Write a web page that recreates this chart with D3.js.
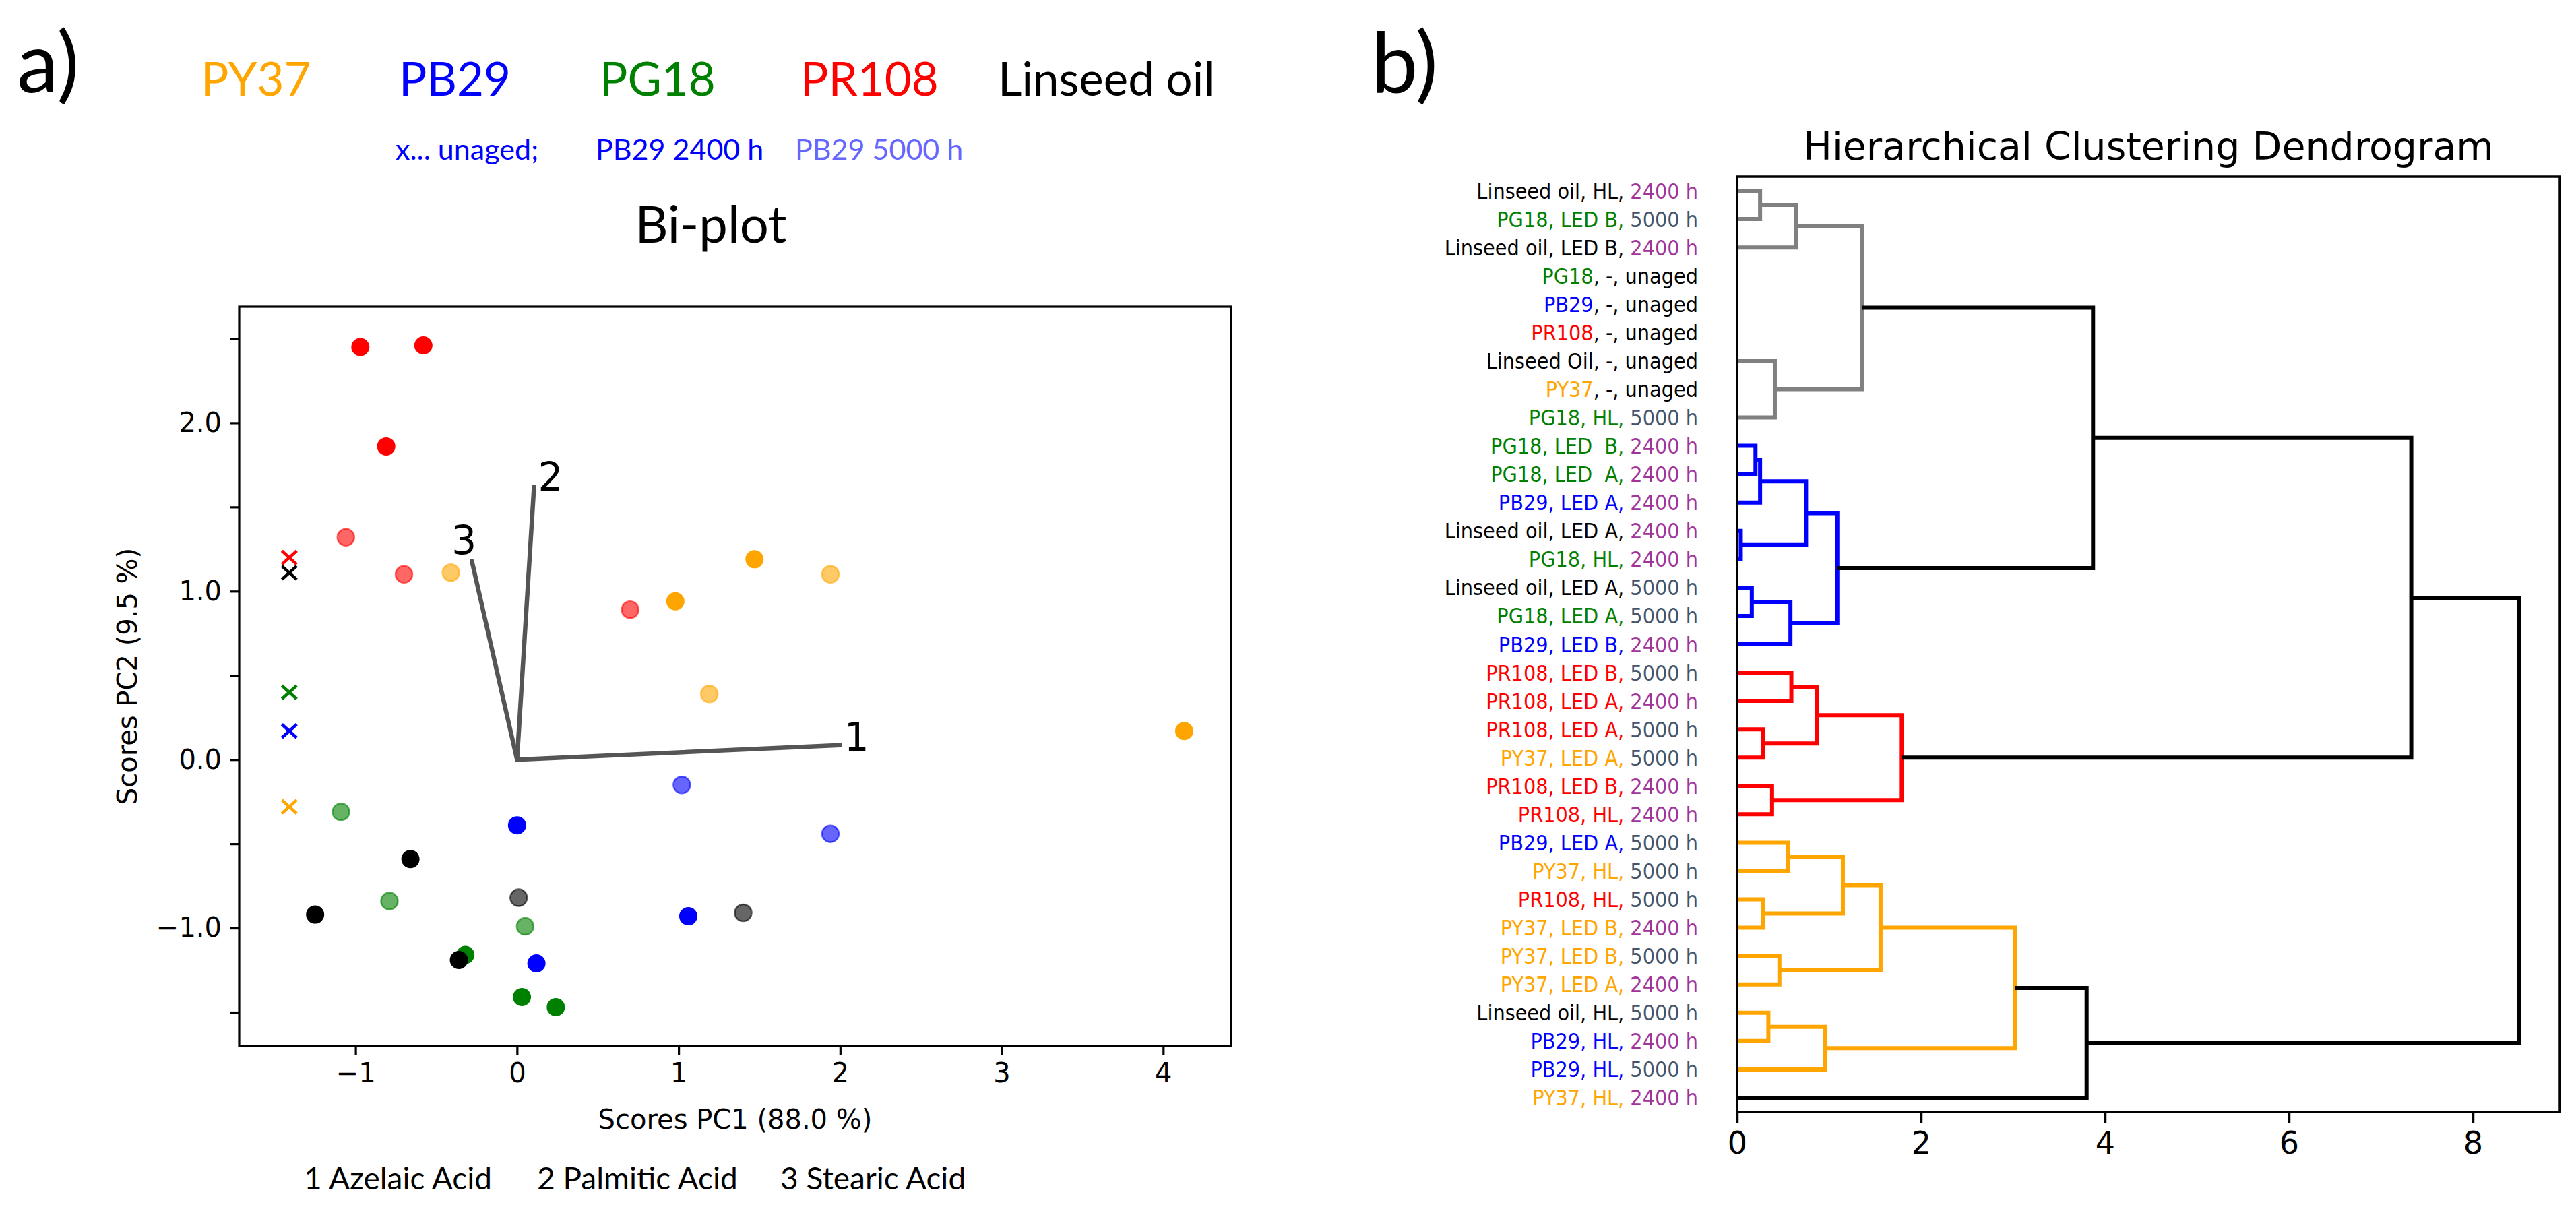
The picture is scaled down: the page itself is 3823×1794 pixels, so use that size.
<!DOCTYPE html>
<html>
<head>
<meta charset="utf-8">
<script src="https://cdn.jsdelivr.net/npm/d3@7"></script>
<style>
body { margin: 0; background: #fff; }
text { white-space: pre; }
</style>
</head>
<body>
<div id="figure"></div>
<script>
// bi-plot scores, one list per pigment (order of pigments below)
var pigments = ["PY37", "PB29", "PG18", "PR108", "Linseed oil"];
var scores2400 = [
    [[1.47, 1.19], [0.98, 0.94], [4.13, 0.17]],
    [[0.00, -0.39], [1.06, -0.93], [0.12, -1.21]],
    [[-0.32, -1.16], [0.03, -1.41], [0.24, -1.47]],
    [[-0.97, 2.45], [-0.58, 2.46], [-0.81, 1.86]],
    [[-0.66, -0.59], [-1.25, -0.92], [-0.36, -1.19]]
];
var scores5000 = [
    [[-0.41, 1.11], [1.94, 1.10], [1.19, 0.39]],
    [[1.02, -0.15], [1.94, -0.44]],
    [[-1.09, -0.31], [-0.79, -0.84], [0.05, -0.99]],
    [[-1.06, 1.32], [-0.70, 1.10], [0.70, 0.89]],
    [[0.01, -0.82], [1.40, -0.91]]
];
var scoresUnaged = [[-1.41, -0.28], [-1.41, 0.17], [-1.41, 0.40], [-1.41, 1.20], [-1.41, 1.11]];

// loadings
var loadingIds = ["1", "2", "3"];
var loadingNames = ["Azelaic Acid", "Palmitic Acid", "Stearic Acid"];
var loadingX = [2.00, 0.105, -0.28];
var loadingY = [0.086, 1.62, 1.18];

var pcaXTicks = [-1, 0, 1, 2, 3, 4];
var pcaYTicks = [-1.5, -1, -0.5, 0, 0.5, 1, 1.5, 2, 2.5];
var pcaYLabelled = [-1, 0, 1, 2];

// dendrogram leaves, top to bottom
var leafPigment = ["Linseed oil", "PG18", "Linseed oil", "PG18", "PB29", "PR108", "Linseed Oil", "PY37",
    "PG18", "PG18", "PG18", "PB29", "Linseed oil", "PG18", "Linseed oil", "PG18", "PB29",
    "PR108", "PR108", "PR108", "PY37", "PR108", "PR108",
    "PB29", "PY37", "PR108", "PY37", "PY37", "PY37", "Linseed oil", "PB29", "PB29", "PY37"];
var leafCondition = ["HL", "LED B", "LED B", "-", "-", "-", "-", "-",
    "HL", "LED  B", "LED  A", "LED A", "LED A", "HL", "LED A", "LED A", "LED B",
    "LED B", "LED A", "LED A", "LED A", "LED B", "HL",
    "LED A", "HL", "HL", "LED B", "LED B", "LED A", "HL", "HL", "HL", "HL"];
var leafTime = ["2400 h", "5000 h", "2400 h", "unaged", "unaged", "unaged", "unaged", "unaged",
    "5000 h", "2400 h", "2400 h", "2400 h", "2400 h", "2400 h", "5000 h", "5000 h", "2400 h",
    "5000 h", "2400 h", "5000 h", "5000 h", "2400 h", "2400 h",
    "5000 h", "5000 h", "5000 h", "2400 h", "5000 h", "2400 h", "5000 h", "2400 h", "5000 h", "2400 h"];

// merges: ids < 33 are leaves, 33 + k is merge k
var mergeChildren = [[0, 1], [33, 2], [6, 8], [34, 35],
    [9, 10], [37, 11], [12, 13], [38, 39], [14, 15], [41, 16], [40, 42],
    [36, 43],
    [17, 18], [19, 20], [45, 46], [21, 22], [47, 48],
    [44, 49],
    [23, 24], [25, 26], [51, 52], [27, 28], [53, 54], [29, 30], [56, 31], [55, 57],
    [58, 32], [50, 59]];
var mergeHeight = [0.25, 0.64, 0.41, 1.36,
    0.20, 0.25, 0.04, 0.75, 0.16, 0.58, 1.09,
    3.87,
    0.59, 0.28, 0.87, 0.38, 1.79,
    7.33,
    0.55, 0.28, 1.15, 0.46, 1.56, 0.34, 0.96, 3.02,
    3.80, 8.50];
var mergeCluster = ["C0", "C0", "C0", "C0",
    "C1", "C1", "C1", "C1", "C1", "C1", "C1",
    "top",
    "C2", "C2", "C2", "C2", "C2",
    "top",
    "C3", "C3", "C3", "C3", "C3", "C3", "C3", "C3",
    "top", "top"];
var distTicks = [0, 2, 4, 6, 8];

var Figure = {
    pigmentColour: {"PY37": "#ffa500", "PB29": "#0000ff", "PG18": "#008000", "PR108": "#ff0000",
        "Linseed oil": "#000000", "Linseed Oil": "#000000"},
    timeColour: {"2400 h": "#a1349a", "5000 h": "#44546a", "unaged": "#000000"},
    clusterColour: {"C0": "#808080", "C1": "#0000ff", "C2": "#ff0000", "C3": "#ffa500", "top": "#000000"},
    calibri: "Lato, 'Open Sans', sans-serif",
    mpl: "'DejaVu Sans', sans-serif",

    init: function(){
        this.svg = d3.select("#figure").append("svg")
            .attr("width", 3823)
            .attr("height", 1794)
            .attr("xmlns", "http://www.w3.org/2000/svg");
        this.buildHeader();
        this.buildBiplot();
        this.buildDendrogram();
    },

    buildHeader: function(){
        var self = this;
        var svg = this.svg;
        svg.append("text").attr("x", 25).attr("y", 137).text("a)")
            .attr("font-family", this.calibri).attr("font-size", 124);
        svg.append("text").attr("x", 2035).attr("y", 137).text("b)")
            .attr("font-family", this.calibri).attr("font-size", 124);

        var legendX = [298, 592, 890, 1188, 1481];
        $each(pigments, function(p, i){
            svg.append("text").attr("x", legendX[i]).attr("y", 142).text(p)
                .attr("font-family", self.calibri).attr("font-size", 69)
                .attr("fill", self.pigmentColour[p]);
        });
        var second = [["x... unaged;", "#0000ff", 587], ["PB29 2400 h", "#0000ff", 884], ["PB29 5000 h", "#6666ff", 1180]];
        $each(second, function(s){
            svg.append("text").attr("x", s[2]).attr("y", 237).text(s[0])
                .attr("font-family", self.calibri).attr("font-size", 43).attr("fill", s[1]);
        });
        svg.append("text").attr("x", 1055).attr("y", 360).text("Bi-plot")
            .attr("text-anchor", "middle")
            .attr("font-family", this.calibri).attr("font-size", 76);

        var footX = [451, 797, 1158];
        $each(loadingNames, function(n, i){
            svg.append("text").attr("x", footX[i]).attr("y", 1765).text(loadingIds[i] + " " + n)
                .attr("font-family", self.calibri).attr("font-size", 46);
        });
    },

    buildBiplot: function(){
        var self = this;
        var svg = this.svg;
        var x = d3.scaleLinear().domain([-1.72, 4.42]).range([355, 1827]);
        var y = d3.scaleLinear().domain([-1.70, 2.69]).range([1552, 455]);
        var minus = function(s){ return String(s).replace("-", "\u2212"); };

        var xAxis = svg.append("g").attr("transform", "translate(0,1552)")
            .call(d3.axisBottom(x).tickValues(pcaXTicks).tickSize(14).tickPadding(12)
                .tickFormat(function(d){ return minus(d); }));
        var yAxis = svg.append("g").attr("transform", "translate(355,0)")
            .call(d3.axisLeft(y).tickValues(pcaYTicks).tickSize(14).tickPadding(12)
                .tickFormat(function(d){
                    return pcaYLabelled.indexOf(d) >= 0 ? minus(d3.format(".1f")(d)) : "";
                }));
        [xAxis, yAxis].forEach(function(a){
            a.select(".domain").remove();
            a.selectAll("line").attr("stroke", "#000").attr("stroke-width", 3.2);
            a.selectAll("text").attr("font-family", self.mpl).attr("font-size", 40).attr("fill", "#000");
        });

        svg.append("text").attr("x", (355 + 1827) / 2).attr("y", 1675)
            .attr("text-anchor", "middle").text("Scores PC1 (88.0 %)")
            .attr("font-family", this.mpl).attr("font-size", 40);
        svg.append("text").attr("transform", "translate(203," + (455 + 1552) / 2 + ") rotate(-90)")
            .attr("text-anchor", "middle").text("Scores PC2 (9.5 %)")
            .attr("font-family", this.mpl).attr("font-size", 40);

        var plot = svg.append("g");
        $each(pigments, function(p, i){
            var colour = self.pigmentColour[p];
            $each(scores5000[i], function(pt){
                plot.append("circle").attr("cx", x(pt[0])).attr("cy", y(pt[1])).attr("r", 12.5)
                    .attr("fill", colour).attr("fill-opacity", 0.6)
                    .attr("stroke", colour).attr("stroke-opacity", 0.6).attr("stroke-width", 2.5);
            });
        });
        $each(pigments, function(p, i){
            var colour = self.pigmentColour[p];
            $each(scores2400[i], function(pt){
                plot.append("circle").attr("cx", x(pt[0])).attr("cy", y(pt[1])).attr("r", 13.5)
                    .attr("fill", colour);
            });
            var u = scoresUnaged[i];
            plot.append("path")
                .attr("transform", "translate(" + x(u[0]) + "," + y(u[1]) + ")")
                .attr("d", "M-11,-10L11,10M-11,10L11,-10")
                .attr("stroke", colour).attr("stroke-width", 4.5).attr("fill", "none");
        });

        // loading vectors
        var labelDx = [6, 6, -30], labelDy = [8, 6, -10];
        $each(loadingIds, function(id, i){
            plot.append("line")
                .attr("x1", x(0)).attr("y1", y(0))
                .attr("x2", x(loadingX[i])).attr("y2", y(loadingY[i]))
                .attr("stroke", "#555").attr("stroke-width", 6.5).attr("stroke-linecap", "round");
            plot.append("text").attr("x", x(loadingX[i]) + labelDx[i]).attr("y", y(loadingY[i]) + labelDy[i])
                .text(id).attr("font-family", self.mpl).attr("font-size", 58);
        });

        svg.append("rect").attr("x", 355).attr("y", 455).attr("width", 1827 - 355).attr("height", 1552 - 455)
            .attr("fill", "none").attr("stroke", "#000").attr("stroke-width", 3.2);
    },

    buildDendrogram: function(){
        var self = this;
        var svg = this.svg;
        var n = leafPigment.length;
        var left = 2578, right = 3799, top = 262, bottom = 1650;
        var x = d3.scaleLinear().domain([0, 8.945]).range([left, right]);
        var y = d3.scalePoint().domain(d3.range(n)).range([top, bottom]).padding(0.5);

        svg.append("text").attr("x", (left + right) / 2).attr("y", 237)
            .attr("text-anchor", "middle").text("Hierarchical Clustering Dendrogram")
            .attr("font-family", this.mpl).attr("font-size", 57);

        //node positions: leaves at distance 0, merges at the middle of their children
        var nodes = d3.range(n).map(function(i){ return {h: 0, pos: y(i)}; });
        var line = d3.line().x(function(d){ return x(d[0]); }).y(function(d){ return d[1]; });
        var links = svg.append("g").attr("fill", "none").attr("stroke-width", 6);
        $each(mergeChildren, function(c, k){
            var a = nodes[c[0]], b = nodes[c[1]];
            var h = mergeHeight[k];
            nodes.push({h: h, pos: (a.pos + b.pos) / 2});
            links.append("path")
                .attr("d", line([[a.h, a.pos], [h, a.pos], [h, b.pos], [b.h, b.pos]]))
                .attr("stroke", self.clusterColour[mergeCluster[k]]);
        });

        var labels = svg.append("g").attr("font-family", "'DejaVu Sans Condensed', 'DejaVu Sans', sans-serif")
            .attr("font-stretch", "condensed").attr("font-size", 32).attr("text-anchor", "end");
        $each(leafPigment, function(p, i){
            var t = labels.append("text").attr("x", left - 58).attr("y", y(i)).attr("dy", "0.36em");
            var c = self.pigmentColour[p];
            if (leafCondition[i] == "-"){
                t.append("tspan").attr("fill", c).text(p);
                t.append("tspan").attr("fill", "#000").text(", -, " + leafTime[i]);
            }
            else{
                t.append("tspan").attr("fill", c).text(p + ", " + leafCondition[i] + ", ");
                t.append("tspan").attr("fill", self.timeColour[leafTime[i]]).text(leafTime[i]);
            }
        });

        var axis = svg.append("g").attr("transform", "translate(0," + bottom + ")")
            .call(d3.axisBottom(x).tickValues(distTicks).tickSize(17).tickPadding(12));
        axis.select(".domain").remove();
        axis.selectAll("line").attr("stroke", "#000").attr("stroke-width", 3.5);
        axis.selectAll("text").attr("font-family", this.mpl).attr("font-size", 46).attr("fill", "#000");

        svg.append("rect").attr("x", left).attr("y", top).attr("width", right - left).attr("height", bottom - top)
            .attr("fill", "none").attr("stroke", "#000").attr("stroke-width", 3.5);
    }
};

function $each(arr, fn){
    for (var i = 0; i < arr.length; i++){
        fn(arr[i], i);
    }
}

Figure.init();
</script>
</body>
</html>
